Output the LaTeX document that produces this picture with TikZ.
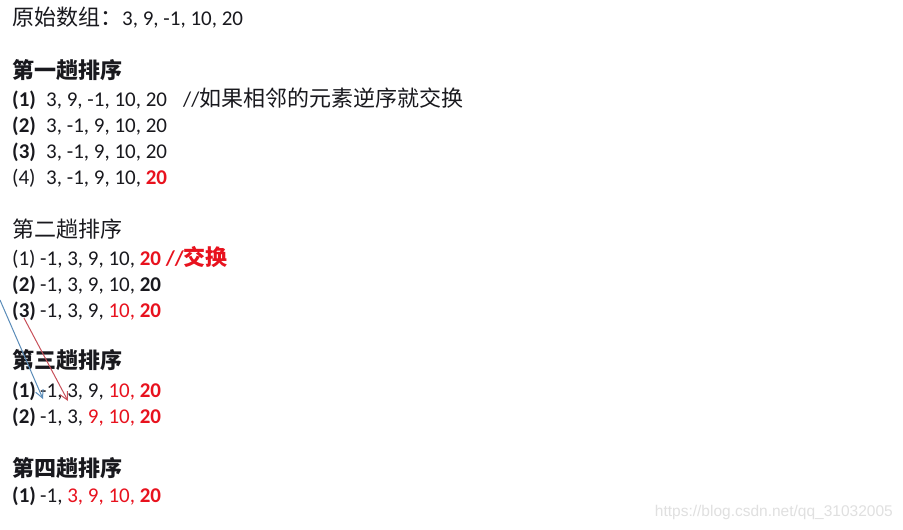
\documentclass[tikz,border=0pt]{standalone}
\usepackage{fontspec}
\setmainfont{Carlito}
\newfontfamily\cjk{Noto Sans CJK SC}
\newfontfamily\wm{Liberation Sans}
\usetikzlibrary{arrows.meta}
\definecolor{hred}{RGB}{232,18,30}
\definecolor{txt}{RGB}{25,25,30}
\definecolor{ablue}{RGB}{90,140,185}
\definecolor{ared}{RGB}{200,80,90}
\newcommand{\rb}[1]{\textbf{\color{hred}#1}}
\newcommand{\rr}[1]{{\color{hred}#1}}
\tikzset{
  ln/.style={anchor=base west, inner sep=0pt, text=txt, font=\fontsize{21}{21}\selectfont},
  wmark/.style={anchor=base east, inner sep=0pt, text=black!12, font=\fontsize{15.5}{16}\selectfont\wm},
  conn/.style={line width=1pt, -{Straight Barb[length=8pt,width=8pt,line width=1pt]}}
}
\begin{document}
\begin{tikzpicture}[x=1pt,y=-1pt]
\useasboundingbox[fill=white] (0,0) rectangle (903,530);
% title
\node[ln] (t0) at (12,25) {{\fontsize{22}{22}\selectfont\cjk 原始数组：}3, 9, -1, 10, 20};
% pass 1
\node[ln] (h1) at (12,78) {\fontsize{22}{22}\selectfont\cjk\bfseries 第一趟排序};
\node[ln] (a1l) at (12,106) {\bfseries(1)};
\node[ln] (a1n) at (46,106) {3, 9, -1, 10, 20};
\node[ln] (a1c) at (183,106) {//{\fontsize{22}{22}\selectfont\cjk 如果相邻的元素逆序就交换}};
\node[ln] (a2l) at (12,132) {\bfseries(2)};
\node[ln] (a2n) at (46,132) {3, -1, 9, 10, 20};
\node[ln] (a3l) at (12,158) {\bfseries(3)};
\node[ln] (a3n) at (46,158) {3, -1, 9, 10, 20};
\node[ln] (a4l) at (12,184) {(4)};
\node[ln] (a4n) at (46,184) {3, -1, 9, 10, \rb{20}};
% pass 2
\node[ln] (h2) at (12,237) {\fontsize{22}{22}\selectfont\cjk 第二趟排序};
\node[ln] (b1l) at (12,265) {(1)};
\node[ln] (b1n) at (40,265) {-1, 3, 9, 10, \rb{20 //{\fontsize{22}{22}\selectfont\cjk 交换}}};
\node[ln] (b2l) at (12,291) {\bfseries(2)};
\node[ln] (b2n) at (40,291) {-1, 3, 9, 10, \textbf{20}};
\node[ln] (b3l) at (12,317) {\bfseries(3)};
\node[ln] (b3n) at (40,317) {-1, 3, 9, \rr{10, }\rb{20}};
% pass 3
\node[ln] (h3) at (12,368) {\fontsize{22}{22}\selectfont\cjk\bfseries 第三趟排序};
\node[ln] (c1l) at (12,397) {\bfseries(1)};
\node[ln] (c1n) at (40,397) {-1, 3, 9, \rr{10, }\rb{20}};
\node[ln] (c2l) at (12,423) {\bfseries(2)};
\node[ln] (c2n) at (40,423) {-1, 3, \rr{9, 10, }\rb{20}};
% pass 4
\node[ln] (h4) at (12,476) {\fontsize{22}{22}\selectfont\cjk\bfseries 第四趟排序};
\node[ln] (d1l) at (12,502) {\bfseries(1)};
\node[ln] (d1n) at (40,502) {-1, \rr{3, 9, 10, }\rb{20}};
% watermark
\node[wmark] (wm) at (893,516) {https://blog.csdn.net/qq\_31032005};
% arrows
\coordinate (bs) at (0,300);
\coordinate (be) at (43,399);
\coordinate (rs) at (24,318);
\coordinate (re) at (68,401);
\draw[conn, ablue] (bs) -- (be);
\draw[conn, ared] (rs) -- (re);
\end{tikzpicture}
\end{document}
